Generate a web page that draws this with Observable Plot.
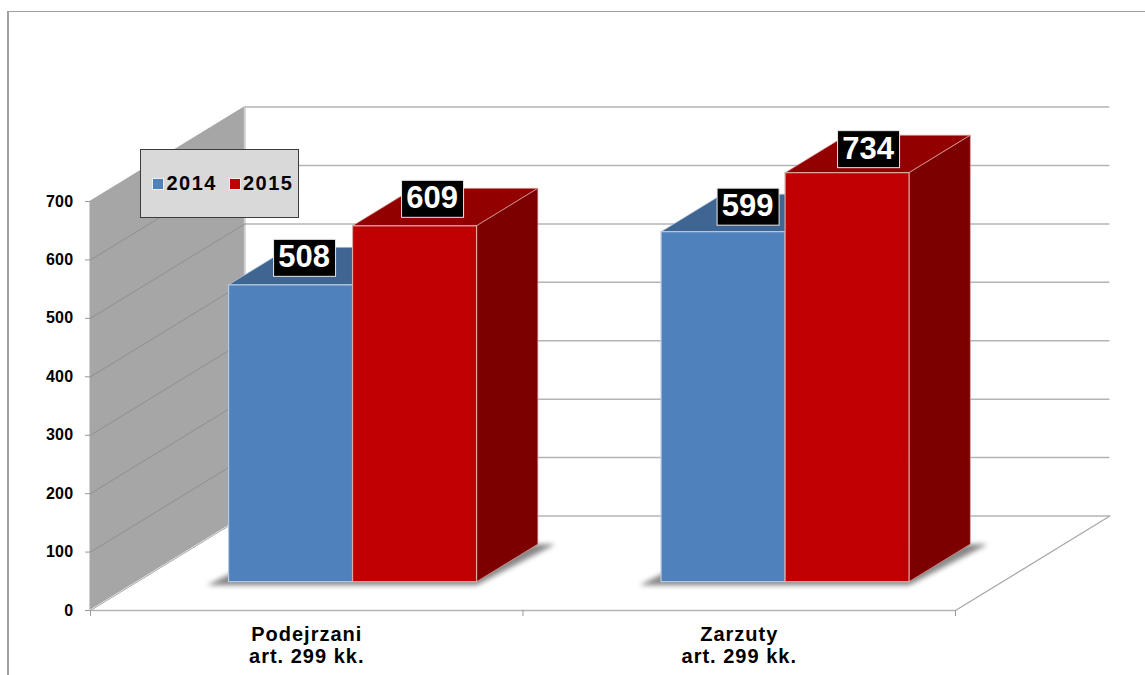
<!DOCTYPE html>
<html>
<head>
<meta charset="utf-8">
<script src="https://cdn.jsdelivr.net/npm/d3@7"></script>
<script src="https://cdn.jsdelivr.net/npm/@observablehq/plot@0.6"></script>
<style>
  html, body { margin: 0; padding: 0; background: #fff; overflow: hidden; width: 1145px; height: 675px; }
  #chart { position: absolute; left: 0; top: 0; }
  #frame { position: absolute; left: 7px; top: 11px; width: 1200px; height: 700px; border-left: 2px solid #a0a0a0; border-top: 1.5px solid #a0a0a0; }
  #legend { position: absolute; left: 139.5px; top: 148.5px; width: 157px; height: 67px; background: #d9d9d9; border: 1.5px solid #3c3c3c;
    font: bold 20px "Liberation Sans", Arial, sans-serif; letter-spacing: 1.5px; color: #000; }
  #legend span.sw { position: absolute; top: 28px; width: 10px; height: 10px; border: 0.5px solid #eee; }
  #legend span.tx { position: absolute; top: 22px; line-height: 22px; }
  g[aria-label="y-axis tick label"] text { letter-spacing: 0.3px; }
  g[aria-label="x-axis tick label"] text { letter-spacing: 1px; }
</style>
</head>
<body>
<div id="frame"></div>
<div id="chart"></div>
<div id="legend"></div>
<script>
// ---- data ----
const categories = ["Podejrzani\nart. 299 kk.", "Zarzuty\nart. 299 kk."];
const seriesNames = ["2014", "2015"];
const values2014 = [508, 599];
const values2015 = [609, 734];
const yTicks = [0, 100, 200, 300, 400, 500, 600, 700];

// ---- styling / projection settings ----
const yMax = 700;
const depthX = 0.357;    // wall depth, in category units
const depthY = 161.7;    // wall depth, in value units
const barFront = 0.30;   // bar front plane, fraction of the depth
const barBack = 0.697;   // bar back plane, fraction of the depth
const barWidth = 0.2867; // category units
const faces = {
  "2014": {front: "#4f81bd", top: "#3f6592", side: "#2f5080", edge: "#b8c9e0"},
  "2015": {front: "#c00000", top: "#920000", side: "#7c0000", edge: "#dda8a8"}
};
// small pixel nudges of the value boxes from the top of each bar
const labelNudge = [[14, -27], [18, -27], [25, -25], [21.5, -23.5]];

const P = (c, v, d) => ({x: c + d * depthX, y: v + d * depthY});
const quad = (a, b, c, d, opts) => Plot.area(
  [{x1: a.x, y1: a.y, x2: d.x, y2: d.y}, {x1: b.x, y1: b.y, x2: c.x, y2: c.y}],
  {x1: "x1", y1: "y1", x2: "x2", y2: "y2", ...opts}
);

const marks = [];

// floor outline and back wall
const gridTicks = yTicks.slice(1);
marks.push(quad(P(0, 0, 0), P(0, yMax, 0), P(0, yMax, 1), P(0, 0, 1), {fill: "#a6a6a6", dx: -0.5}));
marks.push(Plot.ruleX([depthX], {y1: depthY, y2: yMax + depthY, stroke: "#c4c4c4", strokeWidth: 1.5}));
marks.push(Plot.ruleY(yTicks.map(t => t + depthY), {x1: depthX, x2: 2 + depthX, stroke: "#b4b4b4", strokeWidth: 1.5}));
for (const t of gridTicks.slice(0, -1)) {
  marks.push(Plot.line([P(0, t, 0), P(0, t, 1)], {x: "x", y: "y", stroke: "#8f8f8f", strokeWidth: 1}));
}
marks.push(Plot.line([P(0, 0, 0), P(0, 0, 1)], {x: "x", y: "y", stroke: "#a6a6a6", strokeWidth: 1}));
marks.push(Plot.line([P(2, 0, 0), P(2, 0, 1)], {x: "x", y: "y", stroke: "#a8a8a8", strokeWidth: 1.3}));
marks.push(Plot.ruleY([0], {x1: 0, x2: 2, stroke: "#b4b4b4", strokeWidth: 1.6}));

// bars
const bars = [];
categories.forEach((c, i) => {
  bars.push({i, s: "2014", v: values2014[i], left: i + 0.5 - barWidth});
  bars.push({i, s: "2015", v: values2015[i], left: i + 0.5});
});

// soft shadows under each group
categories.forEach((c, i) => {
  const l = i + 0.5 - barWidth, r = i + 0.5 + barWidth;
  marks.push(quad(
    {x: P(l, 0, barFront).x - 0.05, y: P(l, 0, barFront).y - 6},
    P(l, 0, barBack),
    {x: P(r, 0, barBack).x + 0.04, y: P(r, 0, barBack).y},
    {x: P(r, 0, barFront).x, y: P(r, 0, barFront).y - 6},
    {fill: "#6a6a6a", fillOpacity: 0.8, imageFilter: "blur(2.5px)"}
  ));
});

for (const b of bars) {
  const f = faces[b.s];
  const h = Math.min(b.v, yMax);
  const l = b.left, r = b.left + barWidth;
  // top
  marks.push(quad(P(l, h, barFront), P(l, h, barBack), P(r, h, barBack), P(r, h, barFront),
    {fill: f.top, stroke: f.edge, strokeWidth: 0.7}));
  // side
  marks.push(quad(P(r, 0, barFront), P(r, 0, barBack), P(r, h, barBack), P(r, h, barFront),
    {fill: f.side, stroke: f.edge, strokeWidth: 0.7}));
  // front
  const a = P(l, 0, barFront), c = P(r, h, barFront);
  marks.push(Plot.rect([{x1: a.x, x2: c.x, y1: a.y, y2: c.y}],
    {x1: "x1", x2: "x2", y1: "y1", y2: "y2", fill: f.front, stroke: f.edge, strokeWidth: 1.2}));
}

// value boxes
bars.forEach((b, k) => {
  const h = Math.min(b.v, yMax);
  const cx = P(b.left + barWidth / 2, h, barFront);
  const [dx, dy] = labelNudge[k];
  marks.push(Plot.rect([cx], {
    x1: "x", x2: "x", y1: "y", y2: "y", dx, dy,
    insetLeft: -31, insetRight: -31, insetTop: -18.5, insetBottom: -18.5,
    fill: "#000", stroke: "#e8e8e8", strokeWidth: 1
  }));
  marks.push(Plot.text([b.v], {
    x: () => cx.x, y: () => cx.y, dx: dx - 1, dy: dy - 1, text: d => String(d),
    fill: "#fff", fontSize: 31, fontWeight: "bold", fontFamily: "Liberation Sans, Arial, sans-serif"
  }));
});

// axes
marks.push(Plot.axisY({
  ticks: yTicks, tickSize: 5, tickPadding: 12, label: null, stroke: "#999", fill: "#000",
  fontSize: 16, fontWeight: "bold", fontFamily: "Liberation Sans, Arial, sans-serif"
}));
marks.push(Plot.axisX([0, 1, 2], {tickSize: 6, stroke: "#999", tickFormat: () => "", label: null}));
marks.push(Plot.axisX([0.5, 1.5], {
  tickSize: 0, tickPadding: 14.5, label: null, fill: "#000",
  tickFormat: d => categories[Math.floor(d)], lineHeight: 1.1,
  fontSize: 20, fontWeight: "bold", fontFamily: "Liberation Sans, Arial, sans-serif", textOverflow: null
}));

const chart = Plot.plot({
  width: 1145, height: 675,
  marginLeft: 90, marginRight: 190, marginTop: 201, marginBottom: 65,
  style: {background: "transparent", overflow: "visible"},
  x: {type: "linear", domain: [0, 2], axis: null},
  y: {type: "linear", domain: [0, yMax], axis: null},
  marks
});
document.getElementById("chart").append(chart);

// legend (overlaps the chart in the original)
const legend = document.getElementById("legend");
const legendX = [[11, 26], [88, 102.5]];
seriesNames.forEach((s, i) => {
  const sw = document.createElement("span");
  sw.className = "sw"; sw.style.left = legendX[i][0] + "px"; sw.style.background = faces[s].front;
  const tx = document.createElement("span");
  tx.className = "tx"; tx.style.left = legendX[i][1] + "px"; tx.textContent = s;
  legend.append(sw, tx);
});
</script>
</body>
</html>
